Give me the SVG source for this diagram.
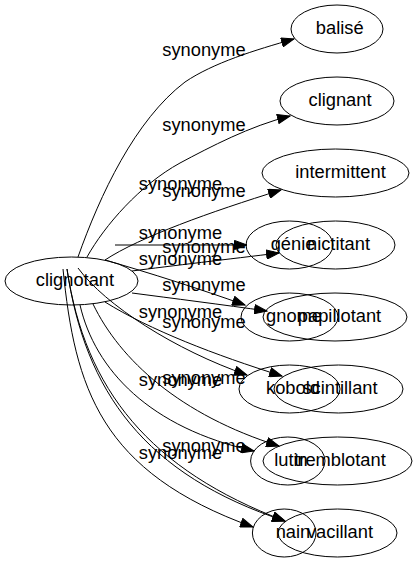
<svg xmlns="http://www.w3.org/2000/svg" width="417" height="563" viewBox="0 0 417 563">
<style>
  .node ellipse { fill: none; stroke: #000; stroke-width: 1; }
  .node text, .edge text { font-family: "Liberation Sans", Arial, sans-serif; font-size: 18.3px; fill: #000; text-anchor: middle; }
  .edge path { fill: none; stroke: #000; stroke-width: 1; marker-end: url(#arrow); }
</style>
<defs>
  <marker id="arrow" markerUnits="userSpaceOnUse" viewBox="0 0 14 10" refX="13" refY="5" markerWidth="14" markerHeight="10" orient="auto">
    <path d="M0.5,0.4 L13,5 L0.5,9.6 Z" fill="#000" stroke="#000" stroke-width="1"/>
  </marker>
</defs>
<rect width="417" height="563" fill="#fff"/>

<g id="connectors">
  <g id="e-balise" class="edge">
    <path d="M78,257 C100,195 135,120 185,82 C213,63 255,50 294,39"/>
    <text x="204" y="56">synonyme</text>
  </g>
  <g id="e-clignant" class="edge">
    <path d="M87,257 C105,225 140,185 180,163 C210,147 250,126 290,116"/>
    <text x="204" y="130.7">synonyme</text>
  </g>
  <g id="e-intermittent" class="edge">
    <path d="M105,260 C140,237 210,212 281,190"/>
    <text x="180.5" y="190">synonyme</text>
  </g>
  <g id="e-genie" class="edge">
    <path d="M115,245 L247,245"/>
    <text x="204" y="197.3">synonyme</text>
  </g>
  <g id="e-nictitant" class="edge">
    <path d="M132,271 C170,266 230,259 279,253"/>
    <text x="180.5" y="239.3">synonyme</text>
  </g>
  <g id="e-gnome" class="edge">
    <path d="M105,260 C150,273 200,289 245,305"/>
    <text x="204" y="253.3">synonyme</text>
  </g>
  <g id="e-papillotant" class="edge">
    <path d="M132,293 C170,298 225,305 267,311"/>
    <text x="180.5" y="265">synonyme</text>
  </g>
  <g id="e-kobold" class="edge">
    <path d="M78,268 C105,305 175,350 247,375"/>
    <text x="204" y="290.7">synonyme</text>
  </g>
  <g id="e-scintillant" class="edge">
    <path d="M105,302 C150,330 215,355 282,376"/>
    <text x="180.5" y="318">synonyme</text>
  </g>
  <g id="e-tremblotant" class="edge">
    <path d="M93,304 C120,360 180,415 279,446"/>
    <text x="204" y="328">synonyme</text>
  </g>
  <g id="e-lutin" class="edge">
    <path d="M80,305 C95,370 150,428 254,451"/>
    <text x="204" y="384">synonyme</text>
  </g>
  <g id="e-vacillant" class="edge">
    <path d="M67,269 C85,390 150,470 285,521"/>
    <text x="180.5" y="386">synonyme</text>
  </g>
  <g id="e-vacillant-2" class="edge">
    <path d="M67,269 C85,392 145,475 285,521"/>
    <text x="204" y="451.7">synonyme</text>
  </g>
  <g id="e-nain" class="edge">
    <path d="M63,269 C75,388 100,472 253,527"/>
    <text x="180.5" y="459.3">synonyme</text>
  </g>
</g>

<g id="n-clignotant" class="node">
  <ellipse cx="71.5" cy="281" rx="66.5" ry="24"/>
  <text x="75" y="286">clignotant</text>
</g>
<g id="n-balise" class="node">
  <ellipse cx="337" cy="29" rx="46" ry="24"/>
  <text x="339.7" y="34.3">balisé</text>
</g>
<g id="n-clignant" class="node">
  <ellipse cx="337" cy="101" rx="57" ry="24"/>
  <text x="340" y="106.3">clignant</text>
</g>
<g id="n-intermittent" class="node">
  <ellipse cx="335.5" cy="173" rx="73.5" ry="24"/>
  <text x="340.5" y="178.3">intermittent</text>
</g>
<g id="n-genie" class="node">
  <ellipse cx="289.5" cy="245" rx="43.5" ry="24"/>
  <text x="293" y="250.3">génie</text>
</g>
<g id="n-nictitant" class="node">
  <ellipse cx="335.5" cy="245" rx="59.5" ry="24"/>
  <text x="338.5" y="250.3">nictitant</text>
</g>
<g id="n-gnome" class="node">
  <ellipse cx="289.5" cy="317" rx="48.5" ry="24"/>
  <text x="294" y="322.3">gnome</text>
</g>
<g id="n-papillotant" class="node">
  <ellipse cx="335" cy="317" rx="72" ry="24"/>
  <text x="339.5" y="322.3">papillotant</text>
</g>
<g id="n-kobold" class="node">
  <ellipse cx="289.5" cy="389" rx="50.5" ry="24"/>
  <text x="293" y="394.3">kobold</text>
</g>
<g id="n-scintillant" class="node">
  <ellipse cx="338.5" cy="389" rx="64.5" ry="24"/>
  <text x="340" y="394.3">scintillant</text>
</g>
<g id="n-lutin" class="node">
  <ellipse cx="287.8" cy="461" rx="37.2" ry="24"/>
  <text x="291" y="466.3">lutin</text>
</g>
<g id="n-tremblotant" class="node">
  <ellipse cx="337.5" cy="461" rx="74.5" ry="24"/>
  <text x="340" y="466.3">tremblotant</text>
</g>
<g id="n-nain" class="node">
  <ellipse cx="284.2" cy="533" rx="31.8" ry="24"/>
  <text x="293" y="538.3">nain</text>
</g>
<g id="n-vacillant" class="node">
  <ellipse cx="337.5" cy="533" rx="59.5" ry="24"/>
  <text x="340" y="538.3">vacillant</text>
</g>
</svg>
